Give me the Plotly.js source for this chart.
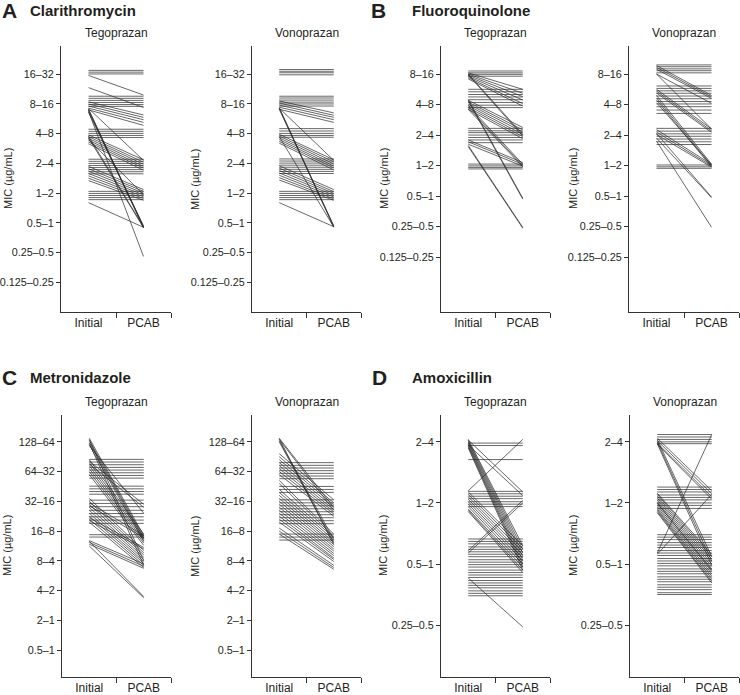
<!DOCTYPE html>
<html>
<head>
<meta charset="utf-8">
<script src="https://cdn.plot.ly/plotly-3.0.1.min.js"></script>
<style>
html,body{margin:0;padding:0;background:#fff;}
#chart{width:740px;height:695px;}
</style>
</head>
<body>
<div id="chart"></div>
<script>
// ---------- tick labels ----------
const A_LABELS = ["0.125–0.25","0.25–0.5","0.5–1","1–2","2–4","4–8","8–16","16–32"];
const B_LABELS = ["0.125–0.25","0.25–0.5","0.5–1","1–2","2–4","4–8","8–16"];
const C_LABELS = ["0.5–1","2–1","4–2","8–4","16–8","32–16","64–32","128–64"];
const D_LABELS = ["0.25–0.5","0.5–1","1–2","2–4"];
const X_LABELS = ["Initial","PCAB"];

// ---------- data (category-index units, incl. jitter) ----------
// A Clarithromycin – Tegoprazan
const A_TEGO_UNCHANGED = [7.13,7.07,7.01,6.26,6.19,6.12,6.05,5.98,5.92,5.15,5.08,5.01,4.94,4.87,4.14,4.07,4.00,3.93,3.86,3.79,3.72,3.65,3.06,2.99,2.92,2.85,2.78];
const A_TEGO_INITIAL = [6.96,6.55,6.07,6.00,5.93,5.86,5.80,5.85,5.83,5.81,5.78,5.75,5.72,4.96,4.90,4.84,4.78,4.72,4.66,4.92,4.86,4.80,3.90,3.82,3.74,3.66,3.58,3.50,3.42,2.68];
const A_TEGO_PCAB    = [6.30,5.88,5.63,5.55,5.47,5.38,5.28,4.10,1.85,1.87,1.83,0.87,1.90,4.12,4.04,3.97,3.90,3.84,3.77,1.86,1.84,2.95,3.12,3.06,3.00,2.94,2.88,2.82,2.76,1.85];
// A Clarithromycin – Vonoprazan
const A_VONO_UNCHANGED = [7.16,7.10,7.05,6.98,6.26,6.20,6.13,6.06,6.00,5.93,5.17,5.09,5.01,4.94,4.88,4.15,4.08,4.01,3.94,3.87,3.80,3.73,3.66,3.06,2.99,2.92,2.85,2.78];
const A_VONO_INITIAL = [6.10,6.03,5.96,5.89,5.82,5.88,5.85,5.82,5.86,4.98,4.92,4.86,4.80,4.74,4.68,4.90,3.92,3.84,3.76,3.68,3.60,3.52,3.44,2.68];
const A_VONO_PCAB    = [5.70,5.62,5.55,5.47,5.38,1.88,1.85,1.90,4.10,4.12,4.05,3.98,3.91,3.85,3.78,1.86,3.12,3.05,2.99,2.93,2.87,2.81,2.76,1.87];
// B Fluoroquinolone – Tegoprazan
const B_TEGO_UNCHANGED = [6.10,6.04,5.99,5.93,5.50,5.42,5.33,5.25,5.16,5.07,4.98,4.90,4.22,4.14,4.08,4.00,3.92,3.84,3.75,3.05,2.99,2.94,2.89];
const B_TEGO_INITIAL = [6.04,6.00,5.96,5.92,5.88,5.84,6.00,5.97,5.16,5.12,3.66,3.62,5.14,5.08,5.02,4.96,4.90,4.84,4.96,4.90,4.84,3.84,3.78,3.70];
const B_TEGO_PCAB    = [5.50,5.37,5.26,5.15,5.03,4.95,4.02,3.97,1.93,1.90,0.97,0.95,4.25,4.17,4.10,4.02,3.95,3.88,3.05,3.00,2.96,3.10,3.04,2.98];
// B Fluoroquinolone – Vonoprazan
const B_VONO_UNCHANGED = [6.30,6.24,6.17,6.11,6.04,5.61,5.53,5.45,5.37,5.28,5.19,5.10,5.02,4.93,4.82,4.71,4.22,4.13,4.04,3.96,3.87,3.78,3.69,3.02,2.96,2.91];
const B_VONO_INITIAL = [6.28,6.22,6.16,6.00,6.00,5.50,5.44,5.38,5.30,5.22,5.15,5.06,4.18,4.10,4.02,4.05,3.90,3.80];
const B_VONO_PCAB    = [5.30,5.25,5.20,5.04,4.20,4.20,4.14,4.09,3.05,3.00,2.95,3.02,3.04,2.99,2.95,1.97,1.95,0.98];
// C Metronidazole – Tegoprazan
const C_TEGO_UNCHANGED = [6.41,6.32,6.23,6.14,6.05,5.96,5.87,5.78,5.51,5.42,5.33,5.24,5.04,4.93,4.82,4.70,4.59,4.48,4.37,4.26,3.88,3.80];
const C_TEGO_INITIAL = [7.12,7.05,6.98,6.90,7.08,6.95,6.88,6.40,6.30,6.20,6.10,6.00,5.90,6.35,6.25,5.10,5.00,4.90,4.80,4.70,4.60,4.50,4.40,4.30,4.45,4.35,4.95,4.85,3.68,3.62,3.56,3.50,3.66];
const C_TEGO_PCAB    = [3.85,3.78,3.72,3.65,3.00,2.85,4.60,3.90,3.82,3.75,3.68,3.60,3.52,4.90,4.80,3.35,3.27,3.20,3.12,3.05,2.98,2.92,2.85,2.78,3.45,3.40,3.85,3.78,2.90,2.82,2.75,1.76,1.80];
// C Metronidazole – Vonoprazan
const C_VONO_UNCHANGED = [6.30,6.21,6.12,6.03,5.94,5.85,5.76,5.50,5.40,5.30,5.05,4.95,4.85,4.75,4.65,4.55,4.45,4.35,4.25,3.90,3.80,3.70];
const C_VONO_INITIAL = [7.12,7.08,7.04,7.00,7.10,6.60,6.50,6.40,6.30,6.20,6.10,6.00,5.90,5.70,5.60,5.40,5.30,5.20,5.10,5.00,4.90,4.80,4.70,4.60,4.50,4.40,4.30,4.10,4.00,3.90];
const C_VONO_PCAB    = [4.80,4.70,3.72,3.62,3.55,5.05,4.95,4.88,4.80,4.72,4.65,4.58,4.50,3.90,3.82,3.78,3.70,3.62,3.55,3.48,3.40,3.33,3.25,3.18,3.10,3.05,2.98,2.85,2.78,2.72];
// D Amoxicillin – Tegoprazan
const D_TEGO_UNCHANGED = [2.98,2.94,2.71,2.19,2.15,2.11,2.07,2.02,1.98,1.94,1.41,1.37,1.33,1.28,1.24,1.20,1.16,1.12,1.07,1.03,0.99,0.95,0.90,0.86,0.82,0.78,0.73,0.69,0.65,0.61,0.56,0.52,0.48];
const D_TEGO_INITIAL = [3.04,3.02,3.00,2.98,2.96,2.94,2.92,2.90,3.03,2.95,2.20,1.22,1.18,2.18,2.14,2.10,2.06,2.02,1.98,1.94,1.90,1.88,1.86,0.77];
const D_TEGO_PCAB    = [1.30,1.24,1.18,1.12,1.06,1.00,0.95,0.90,2.18,2.12,3.04,2.04,2.00,1.30,1.25,1.20,1.15,1.10,1.05,1.00,0.95,0.90,0.86,-0.03];
// D Amoxicillin – Vonoprazan
const D_VONO_UNCHANGED = [3.12,3.08,3.04,3.00,2.97,2.26,2.22,2.18,2.13,2.09,2.05,2.00,1.96,1.91,1.48,1.44,1.40,1.35,1.31,1.27,1.22,1.18,1.14,1.09,1.05,1.01,0.97,0.92,0.88,0.84,0.79,0.75,0.71,0.66,0.62,0.58,0.53,0.50];
const D_VONO_INITIAL = [3.06,3.02,2.98,2.96,3.04,3.00,2.97,1.18,1.16,2.14,2.11,2.08,2.05,2.02,1.99,1.96,1.93,1.90,1.88,1.86,1.84,2.16,2.00];
const D_VONO_PCAB    = [2.20,2.15,2.10,2.06,1.12,1.05,0.98,3.12,2.14,1.12,1.08,1.04,1.00,0.96,0.92,0.88,0.84,0.80,0.76,0.72,0.69,1.16,0.90];

// ---------- layout geometry ----------
const W = 740, H = 695;
const FONT = "Liberation Sans, Arial, Helvetica, sans-serif";
const INK = "#231f20";

const panels = [
  {px:[61,171],  py:[46,312],  labels:A_LABELS, range:[-1.0,7.95], same:A_TEGO_UNCHANGED, ini:A_TEGO_INITIAL, pcab:A_TEGO_PCAB, sub:"Tegoprazan", ytx:8},
  {px:[252,361], py:[46,312],  labels:A_LABELS, range:[-1.0,7.95], same:A_VONO_UNCHANGED, ini:A_VONO_INITIAL, pcab:A_VONO_PCAB, sub:"Vonoprazan", ytx:195},
  {px:[441,550], py:[46,312],  labels:B_LABELS, range:[-1.8,6.92], same:B_TEGO_UNCHANGED, ini:B_TEGO_INITIAL, pcab:B_TEGO_PCAB, sub:"Tegoprazan", ytx:384},
  {px:[629,739], py:[46,312],  labels:B_LABELS, range:[-1.8,6.92], same:B_VONO_UNCHANGED, ini:B_VONO_INITIAL, pcab:B_VONO_PCAB, sub:"Vonoprazan", ytx:573},
  {px:[62,171],  py:[415,677], labels:C_LABELS, range:[-0.9,7.9], same:C_TEGO_UNCHANGED, ini:C_TEGO_INITIAL, pcab:C_TEGO_PCAB, sub:"Tegoprazan", ytx:7},
  {px:[252,361], py:[415,677], labels:C_LABELS, range:[-0.9,7.9], same:C_VONO_UNCHANGED, ini:C_VONO_INITIAL, pcab:C_VONO_PCAB, sub:"Vonoprazan", ytx:195},
  {px:[441,550], py:[415,677], labels:D_LABELS, range:[-0.85,3.44], same:D_TEGO_UNCHANGED, ini:D_TEGO_INITIAL, pcab:D_TEGO_PCAB, sub:"Tegoprazan", ytx:383},
  {px:[630,739], py:[415,677], labels:D_LABELS, range:[-0.85,3.44], same:D_VONO_UNCHANGED, ini:D_VONO_INITIAL, pcab:D_VONO_PCAB, sub:"Vonoprazan", ytx:573}
];

const traces = [];
const layout = {
  width: W, height: H,
  margin: {l:0, r:0, t:0, b:0},
  paper_bgcolor: "#fff", plot_bgcolor: "rgba(0,0,0,0)",
  showlegend: false,
  font: {family: FONT, color: INK},
  annotations: []
};

panels.forEach((p, i) => {
  const n = i + 1;
  const xa = n === 1 ? "x" : "x" + n;
  const ya = n === 1 ? "y" : "y" + n;
  const x = [], y = [];
  p.same.forEach(v => { x.push(0, 1, null); y.push(v, v, null); });
  p.ini.forEach((v, k) => { x.push(0, 1, null); y.push(v, p.pcab[k], null); });
  traces.push({type:"scatter", mode:"lines", x:x, y:y, xaxis:xa, yaxis:ya,
    line:{color:"#262626", width:0.7}, hoverinfo:"skip", showlegend:false});

  layout[n === 1 ? "xaxis" : "xaxis" + n] = {
    domain:[p.px[0]/W, p.px[1]/W], range:[-0.5, 1.5], anchor: ya,
    tickmode:"array", tickvals:[0,1], ticktext:X_LABELS, ticks:"",
    showline:true, linecolor:"#333", linewidth:1, showgrid:false, zeroline:false,
    tickfont:{size:12, family:FONT, color:INK}, fixedrange:true,
    minor:{tickmode:"array", tickvals:[0.5,1.5], ticks:"outside", ticklen:5, tickcolor:"#333", tickwidth:1, showgrid:false}
  };
  layout[n === 1 ? "yaxis" : "yaxis" + n] = {
    domain:[1 - p.py[1]/H, 1 - p.py[0]/H], range:p.range, anchor: xa,
    tickmode:"array", tickvals:p.labels.map((_, k) => k), ticktext:p.labels,
    ticks:"outside", ticklen:4, tickcolor:"#333", tickwidth:1,
    showline:true, linecolor:"#333", linewidth:1, showgrid:false, zeroline:false,
    tickfont:{size:10.8, family:FONT, color:INK}, fixedrange:true
  };
  layout.annotations.push({text:p.sub, xref:"paper", yref:"paper",
    x:(p.px[0]+p.px[1])/2/W, y:1 - (p.py[0] - 13)/H, xanchor:"center", yanchor:"middle",
    showarrow:false, font:{size:12, family:FONT, color:INK}});
  layout.annotations.push({text:"MIC (µg/mL)", xref:"paper", yref:"paper",
    x:p.ytx/W, y:1 - ((p.py[0]+p.py[1])/2)/H, xanchor:"center", yanchor:"middle",
    textangle:-90, showarrow:false, font:{size:11, family:FONT, color:INK}});
});

const PANEL_LETTERS = ["A","B","C","D"];
const PANEL_NAMES = ["Clarithromycin","Fluoroquinolone","Metronidazole","Amoxicillin"];
const letterPos = [[9,10],[378,10],[9,377],[379,377]];
const namePos = [[28,10],[410,10],[28,377],[410,377]];
PANEL_LETTERS.forEach((L, i) => {
  layout.annotations.push({text:"<b>"+L+"</b>", xref:"paper", yref:"paper",
    x:letterPos[i][0]/W, y:1 - letterPos[i][1]/H, xanchor:"center", yanchor:"middle",
    showarrow:false, font:{size:21, family:FONT, color:INK}});
  layout.annotations.push({text:"<b>"+PANEL_NAMES[i]+"</b>", xref:"paper", yref:"paper",
    x:namePos[i][0]/W, y:1 - namePos[i][1]/H, xanchor:"left", yanchor:"middle",
    showarrow:false, font:{size:15, family:FONT, color:INK}});
});

Plotly.newPlot("chart", traces, layout, {staticPlot:true, displayModeBar:false});
</script>
</body>
</html>
